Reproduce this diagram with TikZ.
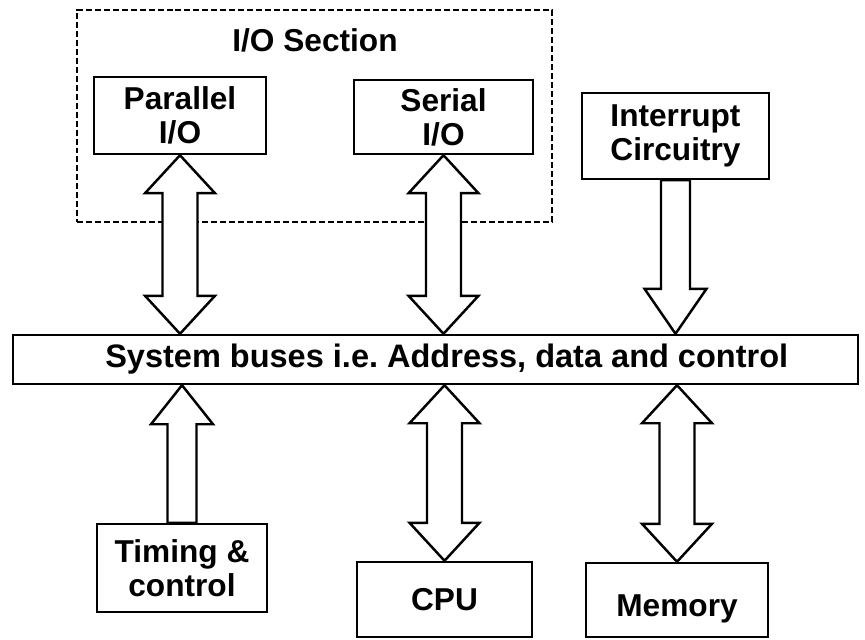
\documentclass[tikz,border=0pt]{standalone}
\usepackage{fontspec}
\setmainfont{Liberation Sans}
\usetikzlibrary{calc}

% hollow block arrow with a head at both ends, tips at #1 (top) and #2 (bottom)
\newcommand{\twowayarrow}[2]{%
  \draw[fat arrow] let \p1=(#1), \p2=(#2) in
    (\x1,\y1) -- ({\x1+0.7cm},{\y1-0.76cm}) -- ({\x1+0.35cm},{\y1-0.76cm})
    -- ({\x1+0.35cm},{\y2+0.76cm}) -- ({\x1+0.7cm},{\y2+0.76cm}) -- (\x1,\y2)
    -- ({\x1-0.7cm},{\y2+0.76cm}) -- ({\x1-0.35cm},{\y2+0.76cm})
    -- ({\x1-0.35cm},{\y1-0.76cm}) -- ({\x1-0.7cm},{\y1-0.76cm}) -- cycle;}
% hollow block arrow from tail #1 to tip #2, #3 = signed head length
\newcommand{\onewayarrow}[3]{%
  \draw[fat arrow] let \p1=(#1), \p2=(#2) in
    (\x2,\y2) -- ({\x2+0.62cm},{\y2+#3}) -- ({\x2+0.29cm},{\y2+#3})
    -- ({\x2+0.29cm},\y1) -- ({\x2-0.29cm},\y1) -- ({\x2-0.29cm},{\y2+#3})
    -- ({\x2-0.62cm},{\y2+#3}) -- cycle;}

\begin{document}
\begin{tikzpicture}
        \tikzset{
            box/.style={draw, line width=1.4pt, align=center, inner sep=0pt,
                font=\fontsize{18}{19.5}\selectfont\bfseries},
            fat arrow/.style={draw, line width=1.4pt, fill=white, line join=miter},
            io frame/.style={draw, line width=1.4pt, dash pattern=on 3.4pt off 1.7pt},
        }
        \useasboundingbox (0,0) rectangle (17.3,12.78);

        % I/O section
        \node[io frame, minimum width=9.5cm, minimum height=4.24cm] (io) at (6.29,10.46) {};
        \node[font=\fontsize{18}{19.5}\selectfont\bfseries] (iolabel) at (6.3,11.98) {I/O Section};
        \node[box, minimum width=3.44cm, minimum height=1.54cm] (par) at (3.6,10.47) {Parallel\\I/O};
        \node[box, minimum width=3.58cm, minimum height=1.48cm] (ser) at (8.87,10.44) {Serial\\I/O};
        \node[box, minimum width=3.74cm, minimum height=1.72cm] (intr) at (13.51,10.06) {Interrupt\\Circuitry};

        % system bus
        \node[box, minimum width=16.9cm, minimum height=0.98cm,
              font=\fontsize{18.5}{20}\selectfont\bfseries] (bus) at (8.71,5.59)
              {\hspace{0.45cm}System buses i.e.\ Address, data and control};

        % bottom row
        \node[box, minimum width=3.4cm, minimum height=1.76cm] (timing) at (3.64,1.42) {Timing \&\\control};
        \node[box, minimum width=3.5cm, minimum height=1.5cm] (cpu) at (8.89,0.79) {CPU};
        \node[box, minimum width=3.64cm, minimum height=1.48cm, text height=0.78cm] (mem) at (13.54,0.78) {Memory};

        % block arrows
        \twowayarrow{par.south}{par.south |- bus.north}
        \twowayarrow{ser.south}{ser.south |- bus.north}
        \onewayarrow{intr.south}{intr.south |- bus.north}{0.9cm}
        \onewayarrow{timing.north}{timing.north |- bus.south}{-0.78cm}
        \twowayarrow{cpu.north |- bus.south}{cpu.north}
        \twowayarrow{mem.north |- bus.south}{mem.north}
\end{tikzpicture}
\end{document}
